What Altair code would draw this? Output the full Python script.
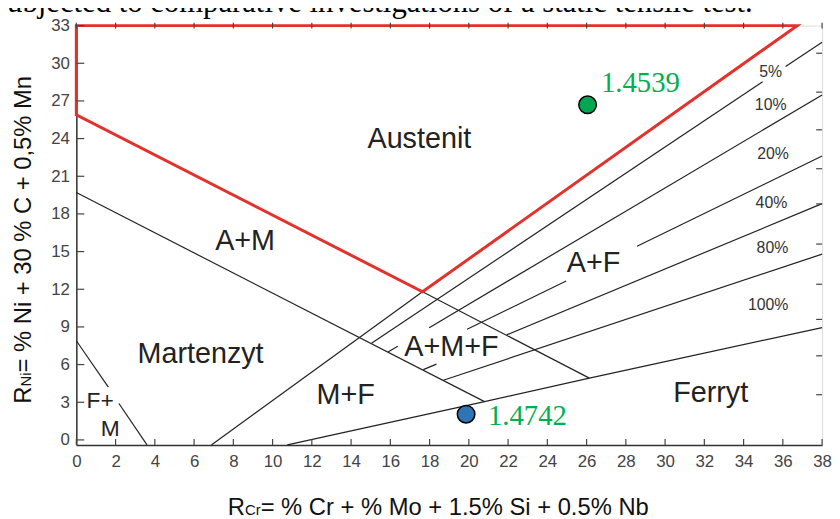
import altair as alt
import pandas as pd

# ---------------- data ----------------
x_ticks = list(range(0, 39, 2))
y_ticks = list(range(0, 34, 3))
right_ticks = [3.6, 6.7, 9.6, 12.4, 15.6, 18.8, 21.6, 24.7, 27.7, 30.8]

# red austenite boundary (closed outline)
red_x = [0, 36.73, 17.64, 0, 0]
red_y = [33, 33, 11.8, 25.9, 33]

# black phase boundaries
line1_x = [0, 20.8]
line1_y = [19.7, 3.05]
line2_x = [17.64, 26.14]
line2_y = [11.8, 4.92]
linea_x = [6.88, 17.64]
linea_y = [-0.4, 11.8]
fm1_x = [0, 1.63]
fm1_y = [7.9, 4.21]
fm2_x = [2.17, 3.6]
fm2_y = [2.9, -0.4]
ferr_x = [10.75, 20.8, 26.14, 38]
ferr_y = [-0.4, 3.05, 4.92, 8.95]
p5a_x = [15.04, 34.97]
p5a_y = [7.7, 28.52]
p5b_x = [36.14, 38]
p5b_y = [29.74, 31.68]
p10a_x = [15.88, 16.38]
p10a_y = [7.0, 7.46]
p10b_x = [17.98, 38]
p10b_y = [8.94, 27.48]
p20a_x = [19.91, 24.96]
p20a_y = [8.81, 12.66]
p20b_x = [28.57, 38]
p20b_y = [15.42, 22.61]
p40a_x = [17.68, 18.35]
p40a_y = [5.6, 6.04]
p40b_x = [21.93, 38]
p40b_y = [8.37, 18.82]
p80_x = [18.7, 38]
p80_y = [4.75, 14.8]

# region labels
region_text = ["Austenit", "A+M", "Martenzyt", "M+F", "A+M+F", "A+F", "Ferryt"]
region_x = [17.48, 8.6, 6.33, 13.72, 19.11, 26.35, 32.32]
region_y = [23.27, 15.12, 6.13, 2.9, 6.66, 13.41, 3.03]
small_text = ["F+", "M"]
small_x = [1.21, 1.73]
small_y = [2.56, 0.32]

# ferrite percentage labels
pct_text = ["5%", "10%", "20%", "40%", "80%", "100%"]
pct_x = [35.38, 35.38, 35.5, 35.42, 35.47, 35.25]
pct_y = [29.32, 26.64, 22.8, 18.85, 15.3, 10.78]

# steel samples
sample_name = ["1.4539", "1.4742"]
sample_x = [26.05, 19.86]
sample_y = [26.69, 2.05]
sample_fill = ["#00a651", "#2e75b6"]
sample_lx = [26.73, 20.97]
sample_ly = [27.74, 1.19]

# ---------------- chart ----------------
W, H = 753, 423.4
FONT = "Liberation Sans"

X = alt.X("x:Q", scale=alt.Scale(domain=[0, 38], nice=False, zero=False),
          axis=alt.Axis(values=x_ticks, title=None, ticks=False, tickSize=0,
                        labelPadding=8.5, labelFontSize=17, labelFont=FONT,
                        labelColor="#444", labelFlush=False, labelOverlap=False,
                        domainColor="#333", domainWidth=1.5, grid=False))
Y = alt.Y("y:Q", scale=alt.Scale(domain=[-0.4, 33], nice=False, zero=False),
          axis=alt.Axis(values=y_ticks, title=None, ticks=False, tickSize=0,
                        labelPadding=7, labelFontSize=17, labelFont=FONT,
                        labelColor="#444", labelOverlap=False,
                        domainColor="#333", domainWidth=1.5, grid=False))


def seg(name, xs, ys):
    return pd.DataFrame({"x": xs, "y": ys, "seg": name, "o": list(range(len(xs)))})


black = pd.concat([
    seg("l1", line1_x, line1_y), seg("l2", line2_x, line2_y),
    seg("la", linea_x, linea_y), seg("fm1", fm1_x, fm1_y),
    seg("fm2", fm2_x, fm2_y), seg("ferr", ferr_x, ferr_y),
    seg("p5a", p5a_x, p5a_y), seg("p5b", p5b_x, p5b_y),
    seg("p10a", p10a_x, p10a_y), seg("p10b", p10b_x, p10b_y),
    seg("p20a", p20a_x, p20a_y), seg("p20b", p20b_x, p20b_y),
    seg("p40a", p40a_x, p40a_y), seg("p40b", p40b_x, p40b_y),
    seg("p80", p80_x, p80_y),
], ignore_index=True)
red = seg("red", red_x, red_y)

lines = alt.Chart(black).mark_line(color="#222", strokeWidth=1.2).encode(
    x=X, y=Y, detail="seg:N", order="o:Q")
red_line = alt.Chart(red).mark_line(color="#e3312b", strokeWidth=3, strokeCap="square").encode(
    x=X, y=Y, order="o:Q")

xt = pd.DataFrame({"x": x_ticks})
yt = pd.DataFrame({"y": y_ticks})
rt = pd.DataFrame({"y": right_ticks})
tick_col = "#444"
bottom_ticks = alt.Chart(xt).mark_rule(color=tick_col, strokeWidth=1.2).encode(
    x=X, y=alt.value(H), y2=alt.value(H - 6))
top_ticks = alt.Chart(xt).mark_rule(color=tick_col, strokeWidth=1.2).encode(
    x=X, y=alt.value(-3), y2=alt.value(3))
left_ticks = alt.Chart(yt).mark_rule(color=tick_col, strokeWidth=1.2).encode(
    y=Y, x=alt.value(0), x2=alt.value(8))
right_ticks_l = alt.Chart(rt).mark_rule(color=tick_col, strokeWidth=1.2).encode(
    y=Y, x=alt.value(W - 6), x2=alt.value(W))

regions = alt.Chart(pd.DataFrame({"x": region_x, "y": region_y, "t": region_text})).mark_text(
    font=FONT, fontSize=29, color="#222", align="center", baseline="alphabetic").encode(
    x=X, y=Y, text="t:N")
smalls = alt.Chart(pd.DataFrame({"x": small_x, "y": small_y, "t": small_text})).mark_text(
    font=FONT, fontSize=23, color="#222", align="center", baseline="alphabetic").encode(
    x=X, y=Y, text="t:N")
pcts = alt.Chart(pd.DataFrame({"x": pct_x, "y": pct_y, "t": pct_text})).mark_text(
    font=FONT, fontSize=16, color="#333", align="center", baseline="middle").encode(
    x=X, y=Y, text="t:N")

samples = alt.Chart(pd.DataFrame({"x": sample_x, "y": sample_y, "c": sample_fill})).mark_circle(
    size=314, opacity=1, stroke="black", strokeWidth=1.5).encode(
    x=X, y=Y, color=alt.Color("c:N", scale=None))
sample_labels = alt.Chart(pd.DataFrame({"x": sample_lx, "y": sample_ly, "t": sample_name})).mark_text(
    font="Liberation Serif", fontSize=29, color="#00b050", align="left", baseline="alphabetic").encode(
    x=X, y=Y, text="t:N")


def ptext(t, px, py, size, angle=0, font=FONT, color="#111"):
    kw = dict(font=font, fontSize=size, color=color, align="left", baseline="alphabetic")
    if angle:
        kw["angle"] = angle
    return alt.Chart(pd.DataFrame({"t": [t]})).mark_text(**kw).encode(
        x=alt.value(px), y=alt.value(py), text="t:N")


# y axis title: R_Ni= % Ni + 30 % C + 0,5% Mn
yx = -45.3
y_title = [
    ptext("R", yx, 381.7, 24, 270),
    ptext("Ni", yx, 364.4, 15, 270),
    ptext("= % Ni + 30 % C + 0,5% Mn", yx, 350.2, 24, 270),
]
# x axis title: R_Cr= % Cr + % Mo + 1.5% Si + 0.5% Nb
xy = 494.2
x_title = [
    ptext("R", 153, xy, 24),
    ptext("Cr", 170.3, xy, 15),
    ptext("= % Cr + % Mo + 1.5% Si + 0.5% Nb", 186.1, xy, 24),
]
top_text = ptext("subjected to comparative investigations of a static tensile test.",
                 -82, -13.8, 31, font="Liberation Serif", color="#000")

chart = alt.layer(
    lines, red_line, bottom_ticks, top_ticks, left_ticks, right_ticks_l,
    regions, smalls, pcts, samples, sample_labels,
    *y_title, *x_title, top_text,
).properties(
    width=W, height=H,
    padding={"left": 69, "top": 15.3, "right": 10, "bottom": 74},
    autosize=alt.AutoSizeParams(type="none"),
).configure_view(stroke="#666", strokeWidth=1.5).configure(background="white")

chart.save("out.html", embed_options={"renderer": "svg", "actions": False})
